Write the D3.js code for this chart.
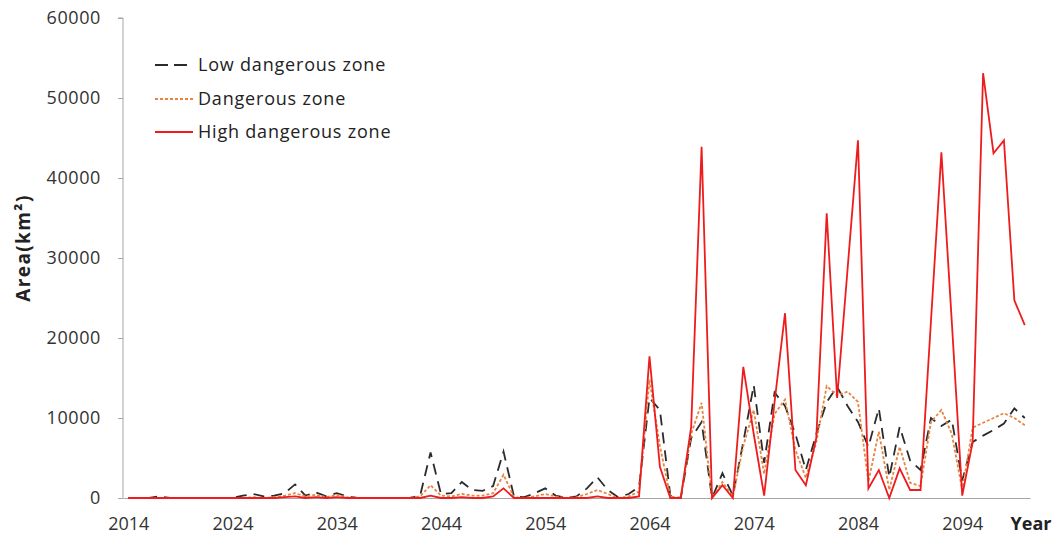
<!DOCTYPE html>
<html><head><meta charset="utf-8">
<script src="https://cdn.jsdelivr.net/npm/d3@7"></script>
<style>body{margin:0;background:#fff}svg{display:block}</style>
</head><body>
<svg id="c" width="1057" height="539"></svg>
<script>
const years = d3.range(2014, 2101);
const yTicks = [0, 10000, 20000, 30000, 40000, 50000, 60000];
const xTicks = [2014, 2024, 2034, 2044, 2054, 2064, 2074, 2084, 2094];
const seriesNames = ["Low dangerous zone", "Dangerous zone", "High dangerous zone"];
// 2014..2100
const lowZone = [
 0,0,0,200,0,0,0,0,0,0,
 0,300,500,200,300,600,1700,300,700,200,
 600,200,0,0,0,0,0,0,300,5700,
 500,600,2000,1000,900,1500,5800,200,100,600,
 1200,300,0,200,1200,2600,1000,100,500,1400,
 12500,11000,300,0,7500,9500,0,3100,300,7000,
 14100,4400,13200,11500,8000,3500,8000,12000,13900,11500,
 9500,6400,11200,2600,8900,4700,3500,10000,9000,9800,
 2200,7000,7800,8500,9300,11200,10000];
const dangerZone = [
 0,0,0,0,0,0,0,0,0,0,
 0,0,100,0,100,300,600,200,400,100,
 400,100,0,0,0,0,0,0,200,1600,
 300,200,500,300,300,600,2900,100,0,200,
 500,200,0,100,500,1000,500,0,200,800,
 14800,6500,200,0,8000,11900,0,2000,200,6500,
 11000,3000,10500,12300,6000,2500,7000,14000,12800,13300,
 12000,2000,8300,1000,6400,1900,1500,9500,11000,8000,
 1000,8800,9400,10000,10600,10000,9100];
const highZone = [
 0,0,0,0,0,0,0,0,0,0,
 0,0,0,0,0,100,200,0,100,0,
 100,0,0,0,0,0,0,0,0,300,
 0,0,100,0,0,200,1200,0,0,0,
 0,0,0,0,0,200,0,0,0,200,
 17700,3900,0,0,8900,43900,0,1600,0,16400,
 8000,300,12000,23100,3500,1600,7500,35600,12500,28600,
 44700,1200,3500,0,3700,1000,1000,22100,43200,22000,
 300,7000,53100,43100,44700,24700,21600];

const svg = d3.select("#c");
const x = d3.scaleLinear().domain([2013.5, 2100.5]).range([123, 1030]);
const y = d3.scaleLinear().domain([0, 60000]).range([498, 18]);
const font = "'Open Sans', sans-serif";

// Y axis
const ya = svg.append("g").attr("transform", "translate(123,0)")
  .call(d3.axisLeft(y).tickValues(yTicks).tickSize(5).tickPadding(17).tickFormat(d3.format("d")));
ya.select(".domain").attr("stroke", "#a6a6a6").attr("d", "M-5,18H0V498");
ya.selectAll(".tick line").attr("stroke", "#a6a6a6");
ya.selectAll(".tick text").attr("font-family", font).attr("font-size", 18)
  .attr("letter-spacing", 0.6).attr("fill", "#333");

// X axis
const xa = svg.append("g").attr("transform", "translate(0,498)")
  .call(d3.axisBottom(x).tickValues(xTicks).tickSize(0).tickPadding(19).tickFormat(d3.format("d")));
xa.select(".domain").attr("stroke", "#a6a6a6");
xa.selectAll(".tick text").attr("font-family", font).attr("font-size", 18).attr("fill", "#333");

svg.append("text").attr("x", 1031).attr("y", 530).attr("text-anchor", "middle")
  .attr("font-family", font).attr("font-size", 18).attr("font-weight", "bold").attr("fill", "#222").text("Year");
svg.append("text").attr("transform", "translate(30,248) rotate(-90)").attr("text-anchor", "middle")
  .attr("font-family", font).attr("font-size", 19).attr("letter-spacing", 1.4)
  .attr("font-weight", "bold").attr("fill", "#222")
  .text("Area(km²)");

const styles = [
  {data: lowZone, color: "#2b2b2b", dash: "11,7", w: 1.8},
  {data: dangerZone, color: "#e8843f", dash: "3,2", w: 1.8},
  {data: highZone, color: "#ee1c1c", dash: null, w: 1.8}
];
const line = d3.line().x((d, i) => x(years[i])).y(d => y(d));
styles.forEach(s => {
  svg.append("path").datum(s.data).attr("d", line).attr("fill", "none")
    .attr("stroke", s.color).attr("stroke-width", s.w).attr("stroke-dasharray", s.dash)
    .attr("stroke-linejoin", "miter");
});

// Legend
const lg = svg.append("g");
const legY = [65, 99, 132];
styles.forEach((s, i) => {
  lg.append("line").attr("x1", 155).attr("x2", 193).attr("y1", legY[i]).attr("y2", legY[i])
    .attr("stroke", s.color).attr("stroke-width", s.w)
    .attr("stroke-dasharray", i === 0 ? "13,6" : s.dash);
  lg.append("text").attr("x", 198).attr("y", legY[i]).attr("dy", "0.35em")
    .attr("font-family", font).attr("font-size", 18).attr("letter-spacing", 0.8)
    .attr("fill", "#222").text(seriesNames[i]);
});
</script>
</body></html>
